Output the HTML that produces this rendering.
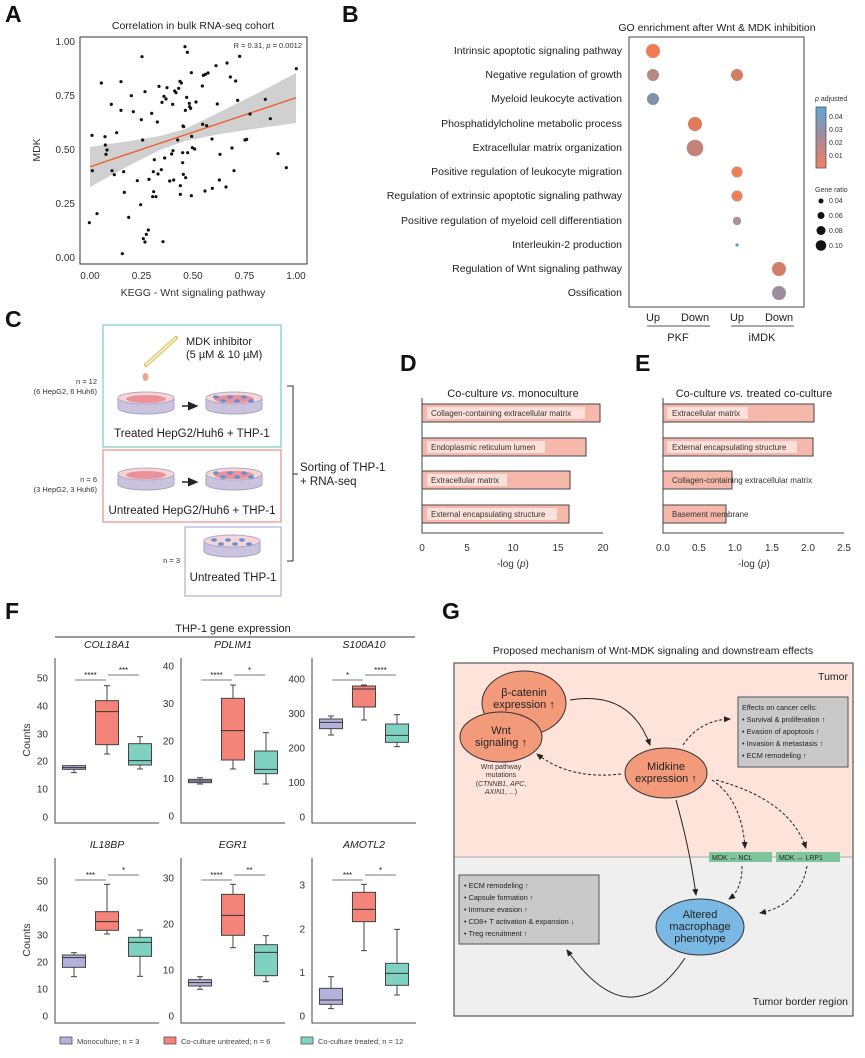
<!DOCTYPE html>
<html><head><meta charset="utf-8"><style>
body{margin:0;background:#fff}
svg{display:block;font-family:"Liberation Sans",Arial,sans-serif}
</style></head><body>
<svg id="s" width="865" height="1058" viewBox="0 0 865 1058" xmlns="http://www.w3.org/2000/svg">
<defs>
<linearGradient id="cb" x1="0" y1="0" x2="0" y2="1"><stop offset="0" stop-color="#5aa9d8"/><stop offset="0.5" stop-color="#a9899a"/><stop offset="1" stop-color="#f08060"/></linearGradient>
<marker id="ah" markerWidth="8" markerHeight="8" refX="6" refY="3" orient="auto"><path d="M0,0 L7,3 L0,6 z" fill="#222"/></marker>
</defs>
<!-- Panel labels -->
<g font-weight="bold" font-size="23" fill="#111">
<text x="5" y="22">A</text><text x="342" y="22">B</text><text x="5" y="327">C</text><text x="400" y="371">D</text><text x="635" y="371">E</text><text x="5" y="619">F</text><text x="442" y="619">G</text>
</g>
<!-- Panel A -->
<text x="193" y="29" font-size="10.5" text-anchor="middle" fill="#222">Correlation in bulk RNA-seq cohort</text>
<path d="M90,147 L130,141 L160,136 L185,129 L220,112 L260,92 L296,73 L296,123 L260,128 L220,134 L185,141 L160,150 L130,165 L90,187 Z" fill="#c8c8c8" opacity="0.85"/>
<line x1="90" y1="166.7" x2="296" y2="97.7" stroke="#f05a28" stroke-width="1.3"/>
<g id="pts" fill="#111"></g>
<rect x="80" y="37" width="227" height="227" fill="none" stroke="#333" stroke-width="1"/>
<text x="302" y="48" font-size="7.5" text-anchor="end" fill="#333">R = 0.31, <tspan font-style="italic">p</tspan> = 0.0012</text>
<g font-size="10" fill="#333" text-anchor="end">
<text x="75" y="45">1.00</text><text x="75" y="99">0.75</text><text x="75" y="153">0.50</text><text x="75" y="207">0.25</text><text x="75" y="261">0.00</text></g>
<g font-size="10" fill="#333" text-anchor="middle">
<text x="90" y="279">0.00</text><text x="141.5" y="279">0.25</text><text x="193" y="279">0.50</text><text x="244.5" y="279">0.75</text><text x="296" y="279">1.00</text></g>
<text x="193" y="296" font-size="10.5" text-anchor="middle" fill="#333">KEGG - Wnt signaling pathway</text>
<text transform="translate(40,150) rotate(-90)" font-size="10.5" text-anchor="middle" fill="#333">MDK</text>
<!-- Panel B -->
<text x="717" y="31" font-size="10.5" text-anchor="middle" fill="#222">GO enrichment after Wnt &amp; MDK inhibition</text>
<rect x="629" y="37" width="175" height="270" fill="none" stroke="#444" stroke-width="1"/>
<g font-size="10.5" fill="#222" text-anchor="end">
<text x="622" y="54">Intrinsic apoptotic signaling pathway</text>
<text x="622" y="78">Negative regulation of growth</text>
<text x="622" y="102">Myeloid leukocyte activation</text>
<text x="622" y="127">Phosphatidylcholine metabolic process</text>
<text x="622" y="151">Extracellular matrix organization</text>
<text x="622" y="175">Positive regulation of leukocyte migration</text>
<text x="622" y="199">Regulation of extrinsic apoptotic signaling pathway</text>
<text x="622" y="224">Positive regulation of myeloid cell differentiation</text>
<text x="622" y="248">Interleukin-2 production</text>
<text x="622" y="272">Regulation of Wnt signaling pathway</text>
<text x="622" y="296">Ossification</text>
</g>
<circle cx="653" cy="51" r="7" fill="#ee7c58"/>
<circle cx="653" cy="75" r="6" fill="#b38a86"/><circle cx="737" cy="75" r="6" fill="#d27e64"/>
<circle cx="653" cy="99" r="6" fill="#7b93ad"/>
<circle cx="695" cy="124" r="7" fill="#df7b5b"/>
<circle cx="695" cy="148" r="8.3" fill="#c0847b"/>
<circle cx="737" cy="172" r="5.5" fill="#ec7f5a"/>
<circle cx="737" cy="196" r="5.5" fill="#e8805c"/>
<circle cx="737" cy="221" r="4.2" fill="#a89398"/>
<circle cx="737" cy="245" r="1.6" fill="#4aa0d0"/>
<circle cx="779" cy="269" r="7" fill="#d27d65"/>
<circle cx="779" cy="293" r="7" fill="#9d8d9c"/>
<g font-size="11" fill="#222" text-anchor="middle"><text x="653" y="321">Up</text><text x="695" y="321">Down</text><text x="737" y="321">Up</text><text x="779" y="321">Down</text>
<text x="678" y="341">PKF</text><text x="762" y="341">iMDK</text></g>
<line x1="647" y1="326" x2="710" y2="326" stroke="#555"/><line x1="731" y1="326" x2="794" y2="326" stroke="#555"/>
<text x="815" y="101" font-size="7" fill="#333"><tspan font-style="italic">p</tspan> adjusted</text>
<rect x="816" y="107" width="10" height="61" fill="url(#cb)" stroke="#555" stroke-width="0.8"/>
<g font-size="7" fill="#333"><text x="829" y="119">0.04</text><text x="829" y="132">0.03</text><text x="829" y="145">0.02</text><text x="829" y="158">0.01</text>
<text x="815" y="192">Gene ratio</text><text x="829" y="203">0.04</text><text x="829" y="218">0.06</text><text x="829" y="233">0.08</text><text x="829" y="248">0.10</text></g>
<g fill="#111"><circle cx="821" cy="201" r="2.5"/><circle cx="821" cy="215.5" r="3.5"/><circle cx="821" cy="230.5" r="4.5"/><circle cx="821" cy="245.5" r="5.3"/></g>
<!-- Panel C -->
<rect x="103" y="325" width="178" height="122" fill="none" stroke="#7fd3c4" stroke-width="1.3"/>
<rect x="103" y="450" width="178" height="72" fill="none" stroke="#f2968c" stroke-width="1.3"/>
<rect x="185" y="527" width="96" height="69" fill="none" stroke="#b8b4dc" stroke-width="1.3"/>
<line x1="146" y1="365" x2="176" y2="338" stroke="#d9c46a" stroke-width="4" stroke-linecap="round"/>
<line x1="146" y1="365" x2="176" y2="338" stroke="#f5ecc0" stroke-width="2"/>
<ellipse cx="145.5" cy="377" rx="3" ry="4" fill="#e8a98a"/>
<g font-size="11" fill="#222"><text x="186" y="345">MDK inhibitor</text><text x="186" y="358">(5 µM &amp; 10 µM)</text></g>
<g id="dishes"></g>
<g font-size="11.5" fill="#222" text-anchor="middle"><text x="192" y="437">Treated HepG2/Huh6 + THP-1</text><text x="192" y="514">Untreated HepG2/Huh6 + THP-1</text><text x="233" y="581">Untreated THP-1</text></g>
<g font-size="7.5" fill="#333" text-anchor="end"><text x="97" y="384">n = 12</text><text x="97" y="394">(6 HepG2, 6 Huh6)</text><text x="97" y="482">n = 6</text><text x="97" y="492">(3 HepG2, 3 Huh6)</text><text x="180" y="563">n = 3</text></g>
<g stroke="#222" stroke-width="1.5"><line x1="182" y1="406" x2="197" y2="406" marker-end="url(#ah)"/><line x1="182" y1="482" x2="197" y2="482" marker-end="url(#ah)"/></g>
<path d="M287,386 H293 V561 H287 M293,474 H298" fill="none" stroke="#333" stroke-width="1"/>
<g font-size="11.5" fill="#222"><text x="300" y="471">Sorting of THP-1</text><text x="300" y="485">+ RNA-seq</text></g>
<!-- Panel D -->
<text x="513" y="397" font-size="11" text-anchor="middle" fill="#222">Co-culture <tspan font-style="italic">vs.</tspan> monoculture</text>
<g stroke="#444" stroke-width="1" fill="#f6b8ab">
<rect x="422" y="404" width="178" height="18"/><rect x="422" y="438" width="164" height="18"/><rect x="422" y="471" width="148" height="18"/><rect x="422" y="505" width="147" height="18"/></g>
<g fill="#fde0d9"><rect x="427" y="407" width="158" height="12"/><rect x="427" y="441" width="118" height="12"/><rect x="427" y="474" width="80" height="12"/><rect x="427" y="508" width="130" height="12"/></g>
<g font-size="8" fill="#333"><text x="431" y="416">Collagen-containing extracellular matrix</text><text x="431" y="450">Endoplasmic reticulum lumen</text><text x="431" y="483">Extracellular matrix</text><text x="431" y="517">External encapsulating structure</text></g>
<path d="M422,398 V533 H603" fill="none" stroke="#444"/>
<g font-size="10" fill="#333" text-anchor="middle"><text x="422" y="551">0</text><text x="467" y="551">5</text><text x="513" y="551">10</text><text x="558" y="551">15</text><text x="603" y="551">20</text><text x="513" y="567">-log (<tspan font-style="italic">p</tspan>)</text></g>
<!-- Panel E -->
<text x="754" y="397" font-size="11" text-anchor="middle" fill="#222">Co-culture <tspan font-style="italic">vs.</tspan> treated co-culture</text>
<g stroke="#444" stroke-width="1" fill="#f6b8ab">
<rect x="663" y="404" width="151" height="18"/><rect x="663" y="438" width="150" height="18"/><rect x="663" y="471" width="69" height="18"/><rect x="663" y="505" width="63" height="18"/></g>
<g fill="#fde0d9"><rect x="667" y="407" width="81" height="12"/><rect x="667" y="441" width="130" height="12"/></g>
<g font-size="8" fill="#333"><text x="672" y="416">Extracellular matrix</text><text x="672" y="450">External encapsulating structure</text><text x="672" y="483">Collagen-containing extracellular matrix</text><text x="672" y="517">Basement membrane</text></g>
<path d="M663,398 V533 H844" fill="none" stroke="#444"/>
<g font-size="10" fill="#333" text-anchor="middle"><text x="663" y="551">0.0</text><text x="699" y="551">0.5</text><text x="735" y="551">1.0</text><text x="772" y="551">1.5</text><text x="808" y="551">2.0</text><text x="844" y="551">2.5</text><text x="754" y="567">-log (<tspan font-style="italic">p</tspan>)</text></g>
<!-- Panel F -->
<text x="233" y="632" font-size="11" text-anchor="middle" fill="#222">THP-1 gene expression</text>
<line x1="55" y1="637" x2="415" y2="637" stroke="#333"/>
<g id="boxes"></g>
<text transform="translate(30,740) rotate(-90)" font-size="10.5" text-anchor="middle" fill="#333">Counts</text>
<text transform="translate(30,940) rotate(-90)" font-size="10.5" text-anchor="middle" fill="#333">Counts</text>
<g stroke="#555" stroke-width="0.8"><rect x="60" y="1037" width="12" height="7" fill="#b4b2dc"/><rect x="164" y="1037" width="12" height="7" fill="#f4837a"/><rect x="301" y="1037" width="12" height="7" fill="#7fd1c1"/></g>
<g font-size="7.5" fill="#444"><text x="77" y="1044">Monoculture; n = 3</text><text x="181" y="1044">Co-culture untreated; n = 6</text><text x="318" y="1044">Co-culture treated; n = 12</text></g>
<!-- Panel G -->
<text x="653" y="654" font-size="10.5" text-anchor="middle" fill="#222">Proposed mechanism of Wnt-MDK signaling and downstream effects</text>
<rect x="454" y="663" width="399" height="194" fill="#fde3da"/>
<rect x="454" y="857" width="399" height="159" fill="#efefef"/>
<line x1="454" y1="857" x2="853" y2="857" stroke="#aaa"/>
<rect x="454" y="663" width="399" height="353" fill="none" stroke="#555" stroke-width="1.2"/>
<text x="848" y="680" font-size="10.5" text-anchor="end" fill="#222">Tumor</text>
<text x="848" y="1005" font-size="10.5" text-anchor="end" fill="#222">Tumor border region</text>
<ellipse cx="524" cy="703" rx="42" ry="32" fill="#f39a7b" stroke="#333"/>
<ellipse cx="501" cy="737" rx="41" ry="25" fill="#f39a7b" stroke="#333"/>
<ellipse cx="666" cy="773" rx="41" ry="25" fill="#f39a7b" stroke="#333"/>
<ellipse cx="700" cy="927" rx="44" ry="28" fill="#7bb9e5" stroke="#333"/>
<g font-size="11" fill="#222" text-anchor="middle">
<text x="524" y="696">β-catenin</text><text x="524" y="708">expression ↑</text>
<text x="501" y="734">Wnt</text><text x="501" y="746">signaling ↑</text>
<text x="666" y="770">Midkine</text><text x="666" y="782">expression ↑</text>
<text x="700" y="918">Altered</text><text x="700" y="930">macrophage</text><text x="700" y="942">phenotype</text></g>
<g font-size="7" fill="#333" text-anchor="middle"><text x="501" y="769">Wnt pathway</text><text x="501" y="777">mutations</text><text x="501" y="786">(<tspan font-style="italic">CTNNB1</tspan>, <tspan font-style="italic">APC</tspan>,</text><text x="501" y="794"><tspan font-style="italic">AXIN1</tspan>, ...)</text></g>
<rect x="738" y="697" width="110" height="70" fill="#c9c9c9" stroke="#555"/>
<g font-size="7.3" fill="#222"><text x="742" y="710">Effects on cancer cells:</text><text x="742" y="722">• Survival &amp; proliferation ↑</text><text x="742" y="734">• Evasion of apoptosis ↑</text><text x="742" y="746">• Invasion &amp; metastasis ↑</text><text x="742" y="758">• ECM remodeling ↑</text></g>
<rect x="459" y="875" width="140" height="69" fill="#c9c9c9" stroke="#555"/>
<g font-size="7.3" fill="#222"><text x="464" y="888">• ECM remodeling ↑</text><text x="464" y="900">• Capsule formation ↑</text><text x="464" y="912">• Immune evasion ↑</text><text x="464" y="924">• CD8+ T activation &amp; expansion ↓</text><text x="464" y="936">• Treg recruitment ↑</text></g>
<rect x="709" y="852" width="63" height="10" fill="#7fc59b"/><rect x="776" y="852" width="64" height="10" fill="#7fc59b"/>
<g font-size="7" fill="#222"><text x="712" y="860">MDK ↔ NCL</text><text x="779" y="860">MDK ↔ LRP1</text></g>
<g fill="none" stroke="#222" stroke-width="1">
<path d="M570,700 Q630,690 650,745" marker-end="url(#ah)"/>
<path d="M676,800 Q690,850 696,895" marker-end="url(#ah)"/>
<path d="M685,958 Q630,1040 567,950" marker-end="url(#ah)"/>
<g stroke-dasharray="3,2">
<path d="M683,745 Q700,720 730,719" marker-end="url(#ah)"/>
<path d="M621,774 Q570,780 537,754" marker-end="url(#ah)"/>
<path d="M712,780 Q742,800 745,848" marker-end="url(#ah)"/>
<path d="M716,780 Q790,800 806,848" marker-end="url(#ah)"/>
<path d="M742,866 Q742,890 729,899" marker-end="url(#ah)"/>
<path d="M807,866 Q800,905 760,913" marker-end="url(#ah)"/>
</g></g>
</svg>
<script>
var NS="http://www.w3.org/2000/svg";
function el(t,a,p){var e=document.createElementNS(NS,t);for(var k in a)e.setAttribute(k,a[k]);(p||document.getElementById('s')).appendChild(e);return e;}
var P=[268,668,277,512,276,406,291,641,304,249,315,410,316,435,318,463,321,450,334,313,336,512,343,524,350,398,363,245,363,331,367,761,371,515,373,577,386,652,394,287,400,335,412,542,422,614,424,359,426,170,428,420,435,275,430,716,435,726,439,703,445,690,447,538,455,340,458,590,461,575,460,515,463,479,468,590,472,366,474,522,477,259,484,509,486,307,489,725,492,289,494,474,498,297,501,263,509,543,515,462,518,313,519,452,521,540,524,273,528,278,533,420,536,265,540,244,541,557,541,583,544,249,548,458,548,488,549,378,550,523,551,380,555,140,556,331,557,533,560,292,562,157,563,458,568,310,569,320,572,325,574,218,574,587,575,409,577,443,584,447,588,306,607,258,608,373,610,226,615,573,616,223,620,377,624,219,636,417,637,565,648,197,652,312,658,540,660,463,678,561,681,189,691,231,696,444,702,512,707,243,713,301,719,169,735,420,740,418,750,342,796,298,811,356,834,461,859,503,889,206];
var g=document.getElementById('pts');
for(var i=0;i<P.length;i+=2)el('circle',{cx:P[i]/3,cy:P[i+1]/3,r:1.6},g);
// dishes
var d=document.getElementById('dishes');
function dish(cx,cy,blue,red){
 el('path',{d:'M'+(cx-28)+','+cy+' v10 a28,6 0 0 0 56,0 v-10',fill:'#c9c3de',stroke:'#a8a2c8'},d);
 el('ellipse',{cx:cx,cy:cy,rx:28,ry:6,fill:'#f4d7d4',stroke:'#b0a8cc'},d);
 if(red)el('ellipse',{cx:cx,cy:cy+1,rx:20,ry:4,fill:'#e8808a',opacity:0.8},d);
 if(blue)for(var k=0;k<6;k++)el('ellipse',{cx:cx-18+k*7,cy:cy+(k%2?3:-1),rx:3,ry:1.8,fill:'#6c8fcf'},d);
}
dish(146,398,0,1);dish(234,398,1,1);dish(146,474,0,1);dish(234,474,1,1);dish(232,541,1,0);
// boxes
var B=document.getElementById('boxes');
var cols=['#b4b2dc','#f4837a','#7fd1c1'];
var plots=[
 {ax:55,top:658,bot:823,t:'COL18A1',ticks:[[0,817],[10,789],[20,761],[30,734],[40,706],[50,678]],
  b:[[557,578,557,568,563],[317,522,362,494,395],[470,567,491,555,542]],s:[680,675],st:['****','***']},
 {ax:181,top:658,bot:823,t:'PDLIM1',ticks:[[0,816],[10,778.5],[20,741],[30,703.5],[40,666]],
  b:[[593,612,598,608,603],[315,567,355,540,452],[458,612,513,581,568]],s:[680,675],st:['****','*']},
 {ax:312,top:658,bot:823,t:'S100A10',ticks:[[0,817],[100,782.5],[200,748],[300,713.5],[400,679]],
  b:[[408,465,417,446,427],[315,420,318,381,327],[404,500,432,487,466]],s:[680,675],st:['*','****']},
 {ax:55,top:858,bot:1023,t:'IL18BP',ticks:[[0,1016],[10,989],[20,962],[30,935],[40,908],[50,881]],
  b:[[1118,1190,1125,1162,1133],[913,1062,995,1051,1025],[1050,1189,1072,1129,1087]],s:[880,875],st:['***','*']},
 {ax:181,top:858,bot:1023,t:'EGR1',ticks:[[0,1016],[10,970],[20,924],[30,878]],
  b:[[1190,1228,1199,1218,1208],[913,1103,943,1066,1006],[1067,1205,1094,1187,1117]],s:[880,875],st:['****','**']},
 {ax:312,top:858,bot:1023,t:'AMOTL2',ticks:[[0,1016],[1,972.5],[2,929],[3,885]],
  b:[[1190,1286,1225,1273,1260],[913,1112,937,1025,988],[1048,1245,1150,1216,1180]],s:[880,875],st:['***','*']}
];
plots.forEach(function(p){
 var a=p.ax;
 el('path',{d:'M'+a+','+p.top+' V'+p.bot+' H'+(a+104),fill:'none',stroke:'#444','stroke-width':1},B);
 var t=el('text',{x:a+52,y:p.top-10,'font-size':10.5,'font-style':'italic','text-anchor':'middle',fill:'#222'},B);t.textContent=p.t;
 p.ticks.forEach(function(k){var e=el('text',{x:a-7,y:k[1]+3.5,'font-size':10,'text-anchor':'end',fill:'#333'},B);e.textContent=k[0];});
 var offs=[19,52,85];
 p.b.forEach(function(v,i){
  var cx=a+offs[i],y=function(z){return 580+z/3;};
  el('line',{x1:cx,y1:y(v[0]),x2:cx,y2:y(v[1]),stroke:'#444'},B);
  el('line',{x1:cx-3,y1:y(v[0]),x2:cx+3,y2:y(v[0]),stroke:'#444'},B);
  el('line',{x1:cx-3,y1:y(v[1]),x2:cx+3,y2:y(v[1]),stroke:'#444'},B);
  el('rect',{x:cx-11.5,y:y(v[2]),width:23,height:Math.max(2,y(v[3])-y(v[2])),fill:cols[i],stroke:'#444'},B);
  el('line',{x1:cx-11.5,y1:y(v[4]),x2:cx+11.5,y2:y(v[4]),stroke:'#333'},B);
 });
 el('line',{x1:a+20,y1:p.s[0],x2:a+51,y2:p.s[0],stroke:'#778'},B);
 el('line',{x1:a+53,y1:p.s[1],x2:a+84,y2:p.s[1],stroke:'#778'},B);
 var s1=el('text',{x:a+35.5,y:p.s[0]-2,'font-size':8,'text-anchor':'middle',fill:'#222'},B);s1.textContent=p.st[0];
 var s2=el('text',{x:a+68.5,y:p.s[1]-2,'font-size':8,'text-anchor':'middle',fill:'#222'},B);s2.textContent=p.st[1];
});
</script>
</body></html>
